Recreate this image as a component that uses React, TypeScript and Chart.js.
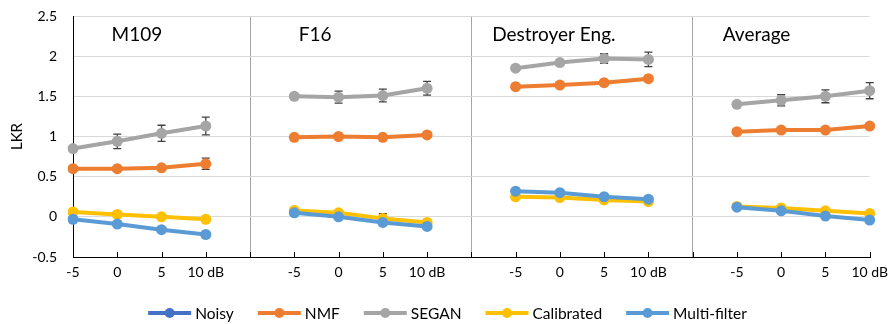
import React, { useEffect, useRef } from "react";
import { Chart, registerables } from "chart.js";

Chart.register(...registerables);

// ---------- data ----------
const xLabels = [
  "-5", "0", "5", "10 dB", "",
  "-5", "0", "5", "10 dB", "",
  "-5", "0", "5", "10 dB", "",
  "-5", "0", "5", "10 dB",
];
const separatorIdx = [4, 9, 14];

const panelTitles = ["M109", "F16", "Destroyer Eng.", "Average"];

const seriesNames = ["Noisy", "NMF", "SEGAN", "Calibrated", "Multi-filter"];

const noisy: (number | null)[] = [
  null, null, null, null, null,
  null, null, null, null, null,
  null, null, null, null, null,
  null, null, null, null,
];
const nmf: (number | null)[] = [
  0.6, 0.6, 0.61, 0.66, null,
  0.99, 1.0, 0.99, 1.02, null,
  1.62, 1.64, 1.67, 1.72, null,
  1.06, 1.08, 1.08, 1.13,
];
const segan: (number | null)[] = [
  0.85, 0.94, 1.04, 1.13, null,
  1.5, 1.49, 1.51, 1.6, null,
  1.85, 1.92, 1.97, 1.96, null,
  1.4, 1.45, 1.5, 1.57,
];
const calibrated: (number | null)[] = [
  0.06, 0.03, 0.0, -0.03, null,
  0.08, 0.05, -0.02, -0.07, null,
  0.25, 0.24, 0.21, 0.19, null,
  0.13, 0.11, 0.075, 0.04,
];
const multiFilter: (number | null)[] = [
  -0.03, -0.09, -0.16, -0.22, null,
  0.05, 0.0, -0.07, -0.12, null,
  0.32, 0.3, 0.25, 0.22, null,
  0.12, 0.075, 0.01, -0.04,
];

// error bar half-lengths
const seganErr: (number | null)[] = [
  0.03, 0.09, 0.1, 0.11, null,
  0.02, 0.075, 0.08, 0.085, null,
  0.02, 0.03, 0.06, 0.09, null,
  0.03, 0.07, 0.08, 0.1,
];
const nmfErr: (number | null)[] = [
  0.02, 0.02, 0.02, 0.07, null,
  0.02, 0.02, 0.02, 0.02, null,
  0.02, 0.02, 0.02, 0.03, null,
  0.02, 0.02, 0.02, 0.02,
];
const calibratedErr: (number | null)[] = [
  0.02, 0.02, 0.02, 0.02, null,
  0.02, 0.02, 0.06, 0.02, null,
  0.02, 0.02, 0.02, 0.02, null,
  0.02, 0.02, 0.02, 0.02,
];

const yTicks = [-0.5, 0, 0.5, 1, 1.5, 2, 2.5];

// ---------- styles ----------
const colors = ["#4472C4", "#ED7D31", "#A5A5A5", "#FFC000", "#5B9BD5"];
const FONT = 'Lato, "Open Sans", "Liberation Sans", sans-serif';
// panel title anchors (category-index units, value units)
const titleAnchors = [
  { x: 0.87, y: 2.27 },
  { x: 5.1, y: 2.27 },
  { x: 9.47, y: 2.27 },
  { x: 14.68, y: 2.27 },
];

const overlayPlugin = {
  id: "overlay",
  beforeDatasetsDraw(chart: any) {
    const ctx = chart.ctx;
    const xs = chart.scales.x;
    const ys = chart.scales.y;
    const errSets: [number, (number | null)[]][] = [
      [1, nmfErr],
      [2, seganErr],
      [3, calibratedErr],
    ];
    ctx.save();
    ctx.strokeStyle = "#404040";
    ctx.lineWidth = 1.3;
    for (const [dsIdx, errs] of errSets) {
      const vals = chart.data.datasets[dsIdx].data as (number | null)[];
      vals.forEach((v, i) => {
        const e = errs[i];
        if (v == null || e == null) return;
        const x = xs.getPixelForValue(i);
        const y1 = ys.getPixelForValue(v + e);
        const y2 = ys.getPixelForValue(v - e);
        ctx.beginPath();
        ctx.moveTo(x, y1);
        ctx.lineTo(x, y2);
        ctx.moveTo(x - 4, y1);
        ctx.lineTo(x + 4, y1);
        ctx.moveTo(x - 4, y2);
        ctx.lineTo(x + 4, y2);
        ctx.stroke();
      });
    }
    ctx.restore();
  },
  afterDraw(chart: any) {
    const ctx = chart.ctx;
    const xs = chart.scales.x;
    const ys = chart.scales.y;
    const area = chart.chartArea;
    ctx.save();
    // inside tick marks on x axis
    ctx.strokeStyle = "#000";
    ctx.lineWidth = 1;
    for (let i = 0; i < xLabels.length; i++) {
      const x = Math.round(xs.getPixelForValue(i)) + 0.5;
      ctx.beginPath();
      ctx.moveTo(x, area.bottom - 5);
      ctx.lineTo(x, area.bottom + 1);
      ctx.stroke();
    }
    // y tick labels
    ctx.fillStyle = "#000";
    ctx.font = `14px ${FONT}`;
    ctx.textBaseline = "middle";
    ctx.textAlign = "right";
    yTicks.forEach((v) => {
      ctx.fillText(String(v), area.left - 16, ys.getPixelForValue(v));
    });
    // panel titles
    ctx.font = `19px ${FONT}`;
    ctx.textAlign = "left";
    panelTitles.forEach((t, k) => {
      const a = titleAnchors[k];
      const x = xs.getPixelForValue(0) + a.x * (xs.getPixelForValue(1) - xs.getPixelForValue(0));
      ctx.fillText(t, x, ys.getPixelForValue(a.y));
    });
    // y axis title
    ctx.font = `15px ${FONT}`;
    ctx.translate(17, (area.top + area.bottom) / 2);
    ctx.rotate(-Math.PI / 2);
    ctx.textAlign = "center";
    ctx.fillText("LKR", 0, 0);
    ctx.setTransform(1, 0, 0, 1, 0, 0);
    // legend
    ctx.font = `15.5px ${FONT}`;
    ctx.textAlign = "left";
    const lineLen = 43;
    const textGap = 4;
    const itemGap = 24;
    const widths = seriesNames.map((n) => lineLen + textGap + ctx.measureText(n).width);
    const total = widths.reduce((a, b) => a + b, 0) + itemGap * (seriesNames.length - 1);
    let x = (chart.width - total) / 2;
    const ly = 313;
    seriesNames.forEach((n, k) => {
      ctx.strokeStyle = colors[k];
      ctx.fillStyle = colors[k];
      ctx.lineWidth = 4;
      ctx.lineCap = "butt";
      ctx.beginPath();
      ctx.moveTo(x, ly);
      ctx.lineTo(x + lineLen, ly);
      ctx.stroke();
      ctx.beginPath();
      ctx.arc(x + lineLen / 2, ly, 5, 0, Math.PI * 2);
      ctx.fill();
      ctx.fillStyle = "#000";
      ctx.fillText(n, x + lineLen + textGap, ly + 1);
      x += widths[k] + itemGap;
    });
    ctx.restore();
  },
};

export default function App() {
  const ref = useRef<HTMLCanvasElement | null>(null);
  useEffect(() => {
    if (!ref.current) return;
    Chart.defaults.font.family = FONT;
    const allSeries = [noisy, nmf, segan, calibrated, multiFilter];
    const chart = new Chart(ref.current, {
      type: "line",
      data: {
        labels: xLabels,
        datasets: allSeries.map((d, k) => ({
          label: seriesNames[k],
          data: d,
          borderColor: colors[k],
          backgroundColor: colors[k],
          pointBackgroundColor: colors[k],
          pointBorderColor: colors[k],
          borderWidth: 4,
          pointRadius: 5.5,
          pointBorderWidth: 0,
          spanGaps: false,
          tension: 0,
          order: allSeries.length - k,
        })),
      },
      options: {
        animation: false,
        responsive: false,
        devicePixelRatio: 1,
        layout: { padding: { top: 16, right: 18, left: 0, bottom: 0 } },
        plugins: {
          legend: { display: false },
          tooltip: { enabled: false },
        },
        scales: {
          x: {
            type: "category",
            offset: false,
            afterFit: (s: any) => {
              s.height = 67;
            },
            grid: {
              drawTicks: false,
              drawOnChartArea: true,
              color: (c: any) =>
                separatorIdx.includes(c.index) ? "#A6A6A6" : "rgba(0,0,0,0)",
              lineWidth: 1,
            },
            border: { display: true, color: "#000", width: 1 },
            ticks: {
              autoSkip: false,
              maxRotation: 0,
              minRotation: 0,
              padding: 7,
              color: "#000",
              font: { size: 14, family: FONT },
            },
          },
          y: {
            type: "linear",
            min: -0.5,
            max: 2.5,
            afterFit: (s: any) => {
              s.width = 73;
            },
            afterBuildTicks: (s: any) => {
              s.ticks = yTicks.map((v) => ({ value: v }));
            },
            grid: { drawTicks: false, color: "#D9D9D9", lineWidth: 1 },
            border: { display: true, color: "#000", width: 1 },
            ticks: { display: false },
          },
        },
      },
      plugins: [overlayPlugin],
    });
    return () => chart.destroy();
  }, []);
  return (
    <div style={{ position: "absolute", left: 0, top: 0, width: 895, height: 324, background: "#fff" }}>
      <canvas ref={ref} width={895} height={324} style={{ display: "block", width: 895, height: 324 }} />
    </div>
  );
}
